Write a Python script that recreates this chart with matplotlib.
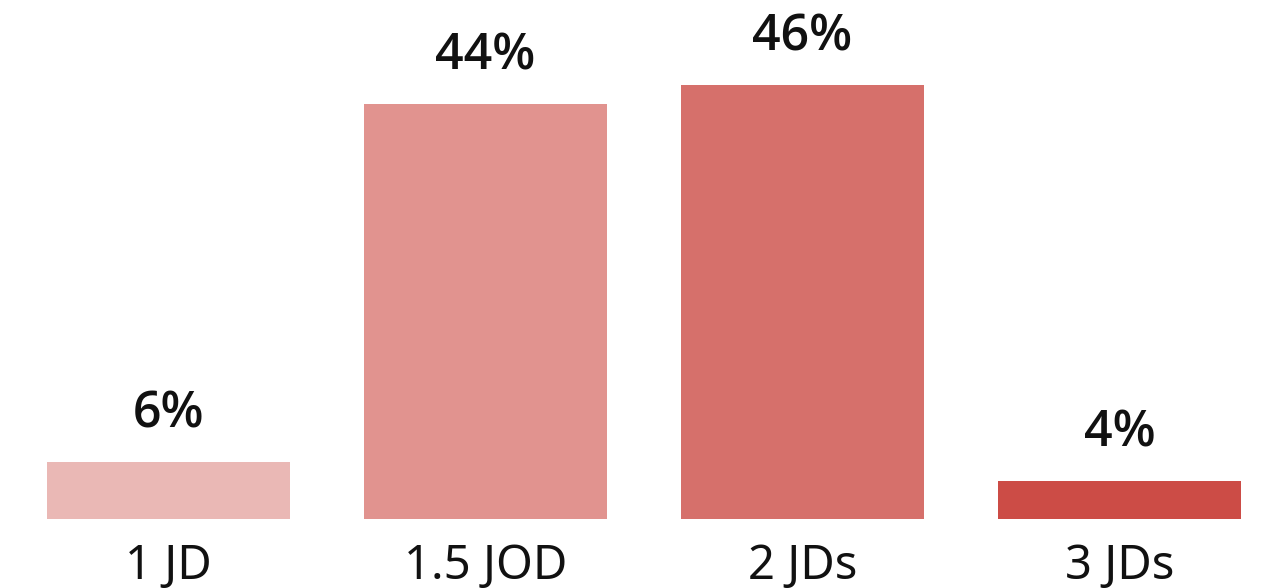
import numpy as np
import matplotlib.pyplot as plt

# price preference shares
categories = ["1 JD", "1.5 JOD", "2 JDs", "3 JDs"]
shares = [6, 44, 46, 4]
bar_colors = ["#EAB8B5", "#E1938F", "#D6706B", "#CC4C46"]

fig = plt.figure(figsize=(12.61, 5.88), dpi=100)
ax = fig.add_axes([0, 1 - 518.5 / 588, 1, 518.5 / 588])

x = np.arange(len(categories))
ax.bar(x, shares, width=0.767, color=bar_colors)

# bar centres at 168.5px with 317px spacing
ax.set_xlim(-168.5 / 317, (1261 - 168.5) / 317)
ax.set_ylim(0, 518.5 / 9.43)

for xi, s in zip(x, shares):
    ax.annotate(f"{s}%", (xi, s), xytext=(0, 16), textcoords="offset points",
                ha="center", va="bottom", fontsize=36, fontweight="semibold",
                family="Open Sans", color="#111111")

ax.set_xticks(x)
ax.set_xticklabels(categories, fontsize=34, family="Noto Sans", color="#111111")
ax.tick_params(axis="x", length=0, pad=17.5)
ax.set_yticks([])
for sp in ax.spines.values():
    sp.set_visible(False)

plt.savefig("out.png", dpi=100)
